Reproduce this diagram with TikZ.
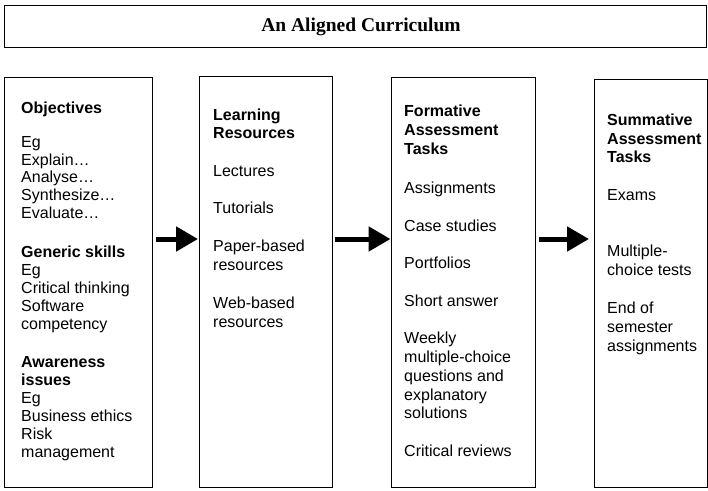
\documentclass[tikz,border=0pt]{standalone}
\usepackage{fontspec}
\setmainfont{Liberation Sans}
\newfontfamily\titlefont{Liberation Serif}
\usetikzlibrary{arrows.meta}
\begin{document}
\begin{tikzpicture}[x=1pt,y=-1pt,
  frame/.style={draw, line width=0.8pt, inner sep=0pt, anchor=north west},
  txt/.style={anchor=base west, inner sep=0pt, font=\fontsize{16}{18}\selectfont},
  hd/.style={txt, font=\fontsize{16}{18}\selectfont\bfseries},
  flow/.style={line width=5pt, -{Triangle[length=22pt,width=24pt]}}
]
\useasboundingbox (0,0) rectangle (708,490);
% title
\node[frame, minimum width=702pt, minimum height=42pt] (tbox) at (4,5) {};
\node[inner sep=0pt, font=\titlefont\fontsize{19.5}{22}\selectfont\bfseries] (title) at (361,27) {An Aligned Curriculum};
% columns
\node[frame, minimum width=148pt, minimum height=410pt] (b1) at (4,77) {};
\node[frame, minimum width=133pt, minimum height=411.5pt] (b2) at (199,75.5) {};
\node[frame, minimum width=144pt, minimum height=410.5pt] (b3) at (391,76.5) {};
\node[frame, minimum width=113pt, minimum height=408pt] (b4) at (594,79) {};
% column 1
\foreach \s/\t/\y [count=\i] in {hd/Objectives/113.3, txt/Eg/147.5, txt/Explain…/165, txt/Analyse…/182.7, txt/Synthesize…/200.5, txt/Evaluate…/218.3,
  hd/Generic skills/257, txt/Eg/275, txt/Critical thinking/293, txt/Software/311, txt/competency/329,
  hd/Awareness/367, hd/issues/385, txt/Eg/403, txt/Business ethics/421, txt/Risk/439, txt/management/457}
  \node[\s] (a\i) at (21,\y) {\t};
% column 2
\foreach \s/\t/\y [count=\i] in {hd/Learning/120, hd/Resources/138, txt/Lectures/176.7, txt/Tutorials/213,
  txt/Paper-based/251.7, txt/resources/270.7, txt/Web-based/308, txt/resources/327}
  \node[\s] (l\i) at (213,\y) {\t};
% column 3
\foreach \s/\t/\y [count=\i] in {hd/Formative/116.7, hd/Assessment/135.5, hd/Tasks/154, txt/Assignments/193,
  txt/Case studies/231, txt/Portfolios/268, txt/Short answer/306, txt/Weekly/343, txt/multiple-choice/362,
  txt/questions and/381, txt/explanatory/400, txt/solutions/418, txt/Critical reviews/456.7}
  \node[\s] (f\i) at (404,\y) {\t};
% column 4
\foreach \s/\t/\y [count=\i] in {hd/Summative/125.5, hd/Assessment/144, hd/Tasks/162.5, txt/Exams/200,
  txt/Multiple-/256, txt/choice tests/275, txt/End of/313, txt/semester/332, txt/assignments/351}
  \node[\s] (s\i) at (607,\y) {\t};
% arrows
\coordinate (row) at (0,239);
\draw[flow, shorten <=3pt, shorten >=1pt] (b1.east |- row) -- (b2.west |- row);
\draw[flow, shorten <=2pt, shorten >=0.5pt] (b2.east |- row) -- (b3.west |- row);
\draw[flow, shorten <=3pt, shorten >=5pt] (b3.east |- row) -- (b4.west |- row);
\end{tikzpicture}
\end{document}
